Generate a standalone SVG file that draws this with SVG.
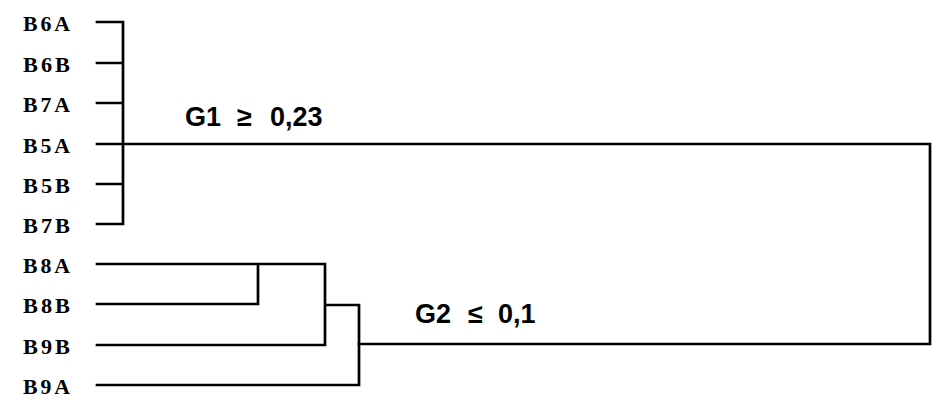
<svg xmlns="http://www.w3.org/2000/svg" width="945" height="410" viewBox="0 0 945 410">
<style>
.lbl{font-family:"Liberation Serif","Times New Roman",serif;font-weight:bold;font-size:22px;letter-spacing:3px;fill:#000}
.grp{font-family:"Liberation Sans",Arial,sans-serif;font-weight:bold;font-size:27px;fill:#000}
.ln{stroke:#000;stroke-width:2.7;fill:none;stroke-linecap:square;stroke-linejoin:miter}
</style>
<rect width="945" height="410" fill="#fff"/>
<g id="leaf-B6A"><text class="lbl" x="23" y="31" textLength="50" lengthAdjust="spacingAndGlyphs">B6A</text></g>
<g id="leaf-B6B"><text class="lbl" x="23" y="72" textLength="50" lengthAdjust="spacingAndGlyphs">B6B</text></g>
<g id="leaf-B7A"><text class="lbl" x="23" y="112" textLength="50" lengthAdjust="spacingAndGlyphs">B7A</text></g>
<g id="leaf-B5A"><text class="lbl" x="23" y="153" textLength="50" lengthAdjust="spacingAndGlyphs">B5A</text></g>
<g id="leaf-B5B"><text class="lbl" x="23" y="193" textLength="50" lengthAdjust="spacingAndGlyphs">B5B</text></g>
<g id="leaf-B7B"><text class="lbl" x="23" y="233" textLength="50" lengthAdjust="spacingAndGlyphs">B7B</text></g>
<g id="leaf-B8A"><text class="lbl" x="23" y="273" textLength="50" lengthAdjust="spacingAndGlyphs">B8A</text></g>
<g id="leaf-B8B"><text class="lbl" x="23" y="313" textLength="50" lengthAdjust="spacingAndGlyphs">B8B</text></g>
<g id="leaf-B9B"><text class="lbl" x="23" y="354" textLength="50" lengthAdjust="spacingAndGlyphs">B9B</text></g>
<g id="leaf-B9A"><text class="lbl" x="23" y="394" textLength="50" lengthAdjust="spacingAndGlyphs">B9A</text></g>
<g id="label-G1"><text class="grp" y="126"><tspan x="185">G1</tspan> <tspan x="237">≥</tspan> <tspan x="270">0,23</tspan></text></g>
<g id="label-G2"><text class="grp" y="323"><tspan x="415">G2</tspan> <tspan x="468">≤</tspan> <tspan x="498">0,1</tspan></text></g>
<g id="connectors" class="ln">
<path d="M97,22 H123 M97,63 H123 M97,103 H123 M97,184 H123 M97,224 H123 M123,22 V224 M97,144 H930 V344 H359"/>
<path d="M97,264 H325 M97,304 H258 V264 M325,264 V345 M97,345 H325 M325,305 H359 V385 H97"/>
</g>
</svg>
